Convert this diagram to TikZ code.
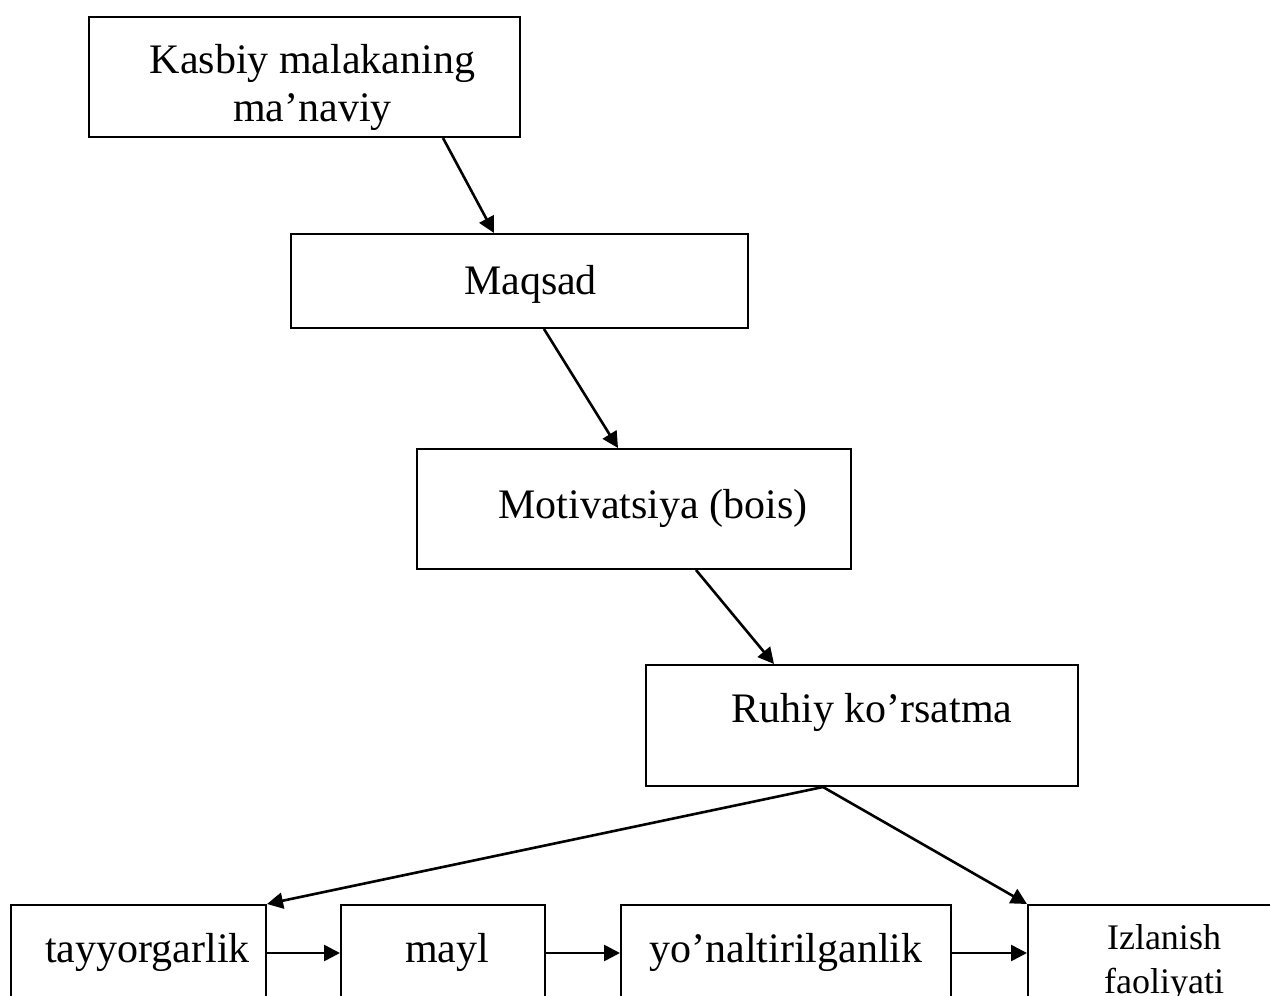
\documentclass[tikz,border=0pt]{standalone}
\usepackage{fontspec}
\setmainfont{Liberation Serif}
\usetikzlibrary{arrows.meta}

\tikzset{
  stage/.style={draw,line width=1pt,inner sep=0pt,anchor=north west,
    font=\fontsize{21pt}{24pt}\selectfont,align=center},
  link/.style={line width=1.3pt,-{Triangle[length=8pt,width=8pt]}}
}

\begin{document}
\begin{tikzpicture}[x=0.5pt,y=-0.5pt]
  \useasboundingbox (0,0) rectangle (1270,996);
  \clip (0,0) rectangle (1270,996);
  % stepped chain
  \node[stage,minimum width=215.5pt,text height=52pt,text depth=8pt] (kasbiy) at (88,16)
    {\hspace*{8pt}Kasbiy malakaning\\\hspace*{8pt}ma’naviy};
  \node[stage,minimum width=228.5pt,text height=30pt,text depth=17pt] (maqsad) at (290,233)
    {\hspace*{11pt}Maqsad};
  \node[stage,minimum width=217pt,text height=34.5pt,text depth=25.5pt] (motiv) at (416,448)
    {\hspace*{19pt}Motivatsiya (bois)};
  \node[stage,minimum width=216pt,text height=28.5pt,text depth=32pt] (ruhiy) at (645,664)
    {\hspace*{10pt}Ruhiy ko’rsatma};
  % bottom row
  \node[stage,minimum width=127.5pt,text height=28.5pt,text depth=50pt] (tayyor) at (10,904)
    {\hspace*{9pt}tayyorgarlik};
  \node[stage,minimum width=102pt,text height=28.5pt,text depth=50pt] (mayl) at (340,904)
    {\hspace*{4pt}mayl};
  \node[stage,minimum width=165pt,text height=28.5pt,text depth=50pt] (yonal) at (620,904)
    {yo’naltirilganlik};
  \node[stage,minimum width=136pt,text height=44pt,text depth=30pt,
        font=\fontsize{18pt}{22pt}\selectfont] (izlanish) at (1027,904) {Izlanish\\faoliyati};

  \draw[link] ([xshift=69.25pt]kasbiy.south) -- ([xshift=-12.75pt]maqsad.north);
  \draw[link] ([xshift=12.25pt]maqsad.south) -- ([xshift=-8pt]motiv.north);
  \draw[link] ([xshift=31pt]motiv.south) -- ([xshift=-44pt]ruhiy.north);
  \draw[link] ([xshift=-19.5pt]ruhiy.south) -- (tayyor.north east);
  \draw[link] ([xshift=-19.5pt]ruhiy.south) -- (izlanish.north west);
  \foreach \a/\b in {tayyor/mayl,mayl/yonal,yonal/izlanish}
    \draw[link] ([yshift=-24.5pt]\a.north east) -- ([yshift=-24.5pt]\b.north west);
\end{tikzpicture}
\end{document}
